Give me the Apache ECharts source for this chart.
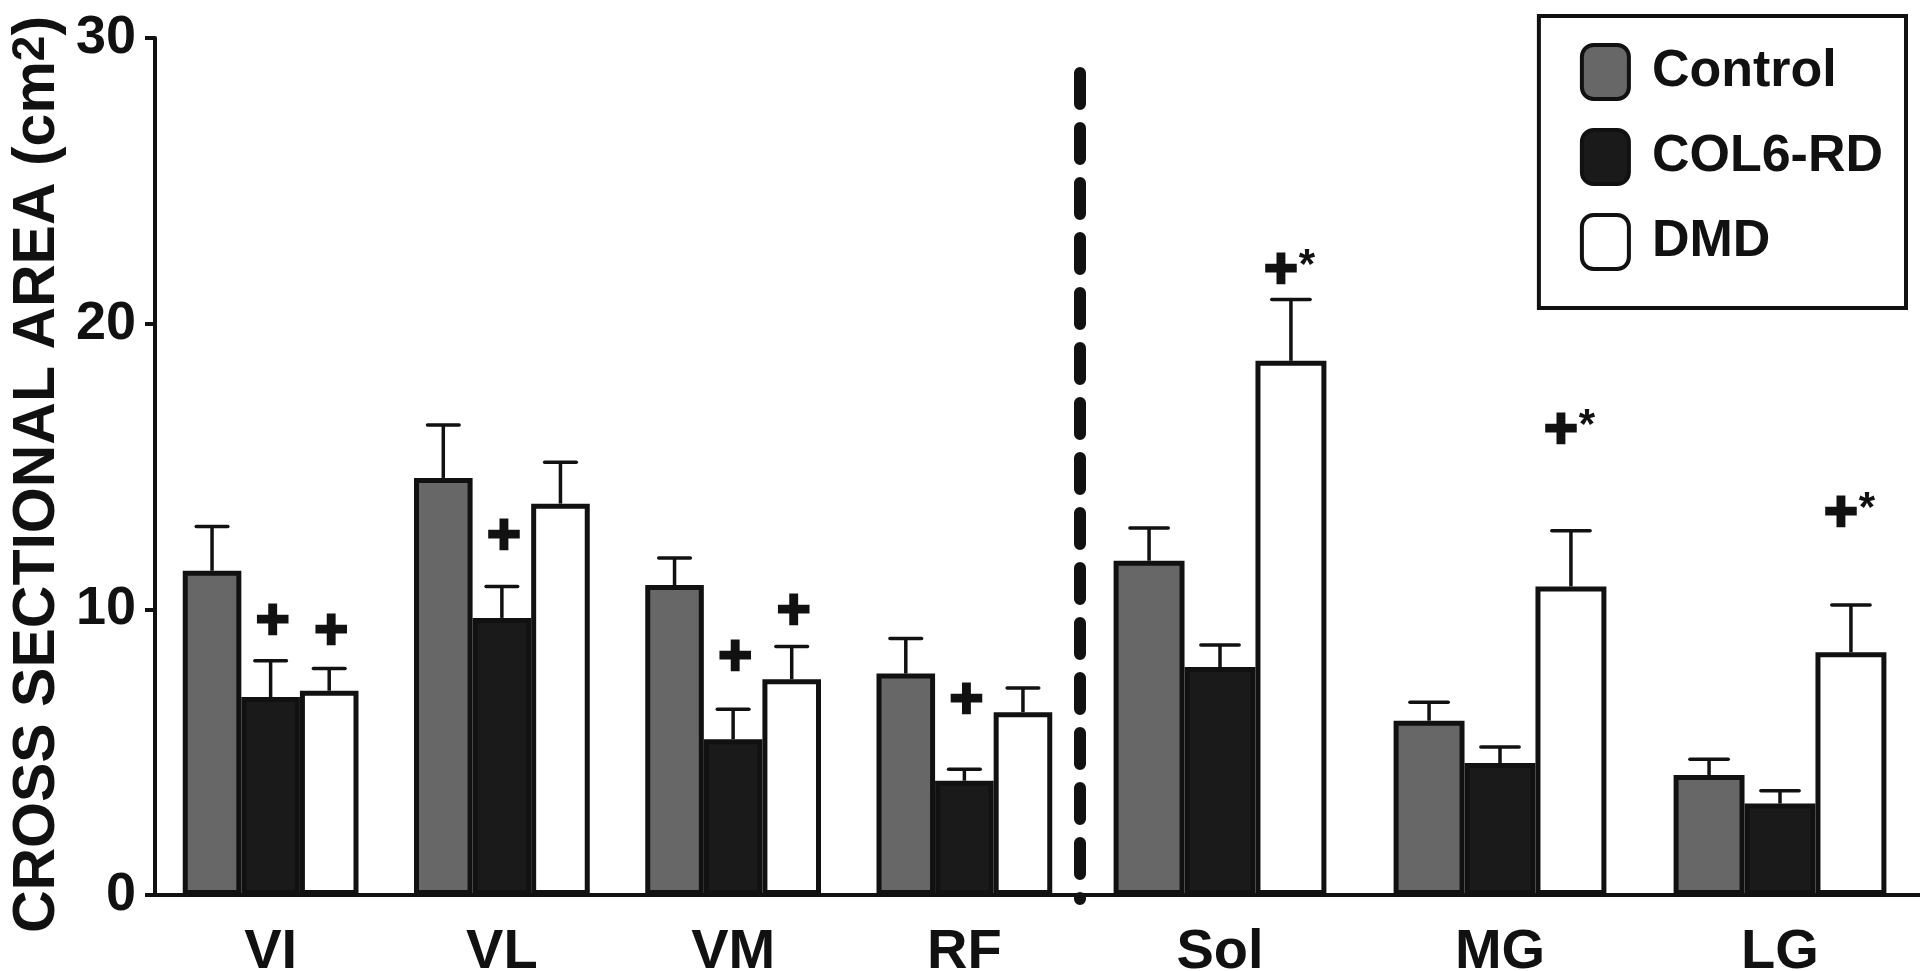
<!DOCTYPE html>
<html>
<head>
<meta charset="utf-8">
<script src="https://cdn.jsdelivr.net/npm/echarts@6/dist/echarts.min.js"></script>
<style>html,body{margin:0;padding:0;background:#fff;}#chart{width:1920px;height:971px;}</style>
</head>
<body>
<div id="chart"></div>
<script>
// ---- data ----
const categories = ['VI', 'VL', 'VM', 'RF', 'Sol', 'MG', 'LG'];
const seriesNames = ['Control', 'COL6-RD', 'DMD'];
const controlMean = [11.35, 14.6, 10.85, 7.75, 11.7, 6.1, 4.2];
const controlSem  = [1.55, 1.85, 0.95, 1.23, 1.15, 0.65, 0.55];
const col6Mean    = [6.93, 9.7, 5.45, 4.0, 7.98, 4.62, 3.2];
const col6Sem     = [1.27, 1.1, 1.05, 0.4, 0.77, 0.56, 0.45];
const dmdMean     = [7.15, 13.7, 7.55, 6.4, 18.7, 10.8, 8.5];
const dmdSem      = [0.78, 1.45, 1.15, 0.85, 2.15, 1.95, 1.65];
const controlSig  = ['', '', '', '', '', '', ''];
const col6Sig     = ['+', '+', '+', '+', '', '', ''];
const dmdSig      = ['+', '', '+', '', '+*', '+*', '+*'];
const controlSigY = [null, null, null, null, null, null, null];
const col6SigY    = [9.52, 12.5, 8.26, 6.76, null, null, null];
const dmdSigY     = [9.18, null, 9.88, null, 21.8, 16.2, 13.3];
const yTicks = [0, 10, 20, 30];

// ---- layout / style ----
const FONT = '"Liberation Sans", Arial, Helvetica, sans-serif';
const INK = '#111';
const GRID_TOP = 38, GRID_BOTTOM = 76, GRID_LEFT = 155, SPLIT_X = 1080;
const CAT_GAP = 0.24;
const groups = [[0, 4], [4, 7]]; // thigh muscles | calf muscles
const means = [controlMean, col6Mean, dmdMean];
const sems = [controlSem, col6Sem, dmdSem];
const sigs = [controlSig, col6Sig, dmdSig];
const sigYs = [controlSigY, col6SigY, dmdSigY];
const fills = ['#676767', '#1a1a1a', '#ffffff'];

const chart = echarts.init(document.getElementById('chart'), null, {renderer: 'canvas'});

const grids = [
  {left: GRID_LEFT, width: SPLIT_X - GRID_LEFT, top: GRID_TOP, bottom: GRID_BOTTOM, containLabel: false, outerBoundsMode: 'none'},
  {left: SPLIT_X, right: 0, top: GRID_TOP, bottom: GRID_BOTTOM, containLabel: false, outerBoundsMode: 'none'}
];

const xAxes = groups.map((g, gi) => ({
  type: 'category', gridIndex: gi,
  data: categories.slice(g[0], g[1]),
  axisLine: {lineStyle: {color: INK, width: 4}},
  axisTick: {alignWithLabel: true, length: 12, lineStyle: {color: INK, width: 4}},
  axisLabel: {color: INK, fontSize: 56, fontWeight: 'bold', fontFamily: FONT, margin: 30}
}));

const yAxes = groups.map((g, gi) => ({
  type: 'value', gridIndex: gi, min: yTicks[0], max: yTicks[yTicks.length - 1], interval: 10,
  show: gi === 0,
  splitLine: {show: false},
  axisLine: {show: true, lineStyle: {color: INK, width: 4}},
  axisTick: {show: true, length: 10, lineStyle: {color: INK, width: 4}},
  axisLabel: {color: INK, fontSize: 54, fontWeight: 'bold', fontFamily: FONT, margin: 19},
  name: gi === 0 ? 'CROSS SECTIONAL AREA (cm{sup|2})' : '',
  nameLocation: 'middle', nameGap: 88, nameRotate: 90,
  nameTextStyle: {
    color: INK, fontSize: 59, fontWeight: 'bold', fontFamily: FONT, padding: [0, 16, 0, 0],
    rich: {sup: {color: INK, fontSize: 46, fontWeight: 'bold', fontFamily: FONT, verticalAlign: 'top'}}
  }
}));

const series = [];
groups.forEach((g, gi) => {
  seriesNames.forEach((name, si) => {
    series.push({
      name: name, type: 'bar', xAxisIndex: gi, yAxisIndex: gi,
      barGap: '0%', barCategoryGap: (CAT_GAP * 100) + '%',
      itemStyle: {color: fills[si], borderColor: INK, borderWidth: 5},
      data: means[si].slice(g[0], g[1]),
      z: 3
    });
  });
});
groups.forEach((g, gi) => {
  seriesNames.forEach((name, si) => {
    const rows = [];
    for (let i = g[0]; i < g[1]; i++) rows.push([i - g[0], means[si][i], means[si][i] + sems[si][i]]);
    series.push({
      name: name + ' SEM', type: 'custom', xAxisIndex: gi, yAxisIndex: gi, z: 2,
      silent: true,
      data: rows,
      renderItem: function (params, api) {
        const xi = api.value(0), m = api.value(1), t = api.value(2);
        const gIdx = g[0] + params.dataIndex;
        const band = api.size([1, 0])[0];
        const bw = band * (1 - CAT_GAP) / 3;
        const cx = api.coord([xi, 0])[0] + (si - 1) * bw;
        const yM = api.coord([xi, m])[1];
        const yT = api.coord([xi, t])[1];
        const cap = bw * 0.54;
        const children = [
          {type: 'line', shape: {x1: cx, y1: yM, x2: cx, y2: yT}, style: {stroke: INK, lineWidth: 3.5}},
          {type: 'line', shape: {x1: cx - cap / 2, y1: yT, x2: cx + cap / 2, y2: yT}, style: {stroke: INK, lineWidth: 3.5, lineCap: 'round'}}
        ];
        const sig = sigs[si][gIdx];
        const sy = sigYs[si][gIdx];
        if (sig && sy != null) {
          const py = api.coord([xi, sy])[1];
          const star = sig.indexOf('*') >= 0;
          const px = star ? cx - 10 : cx + 2;
          children.push({type: 'text', z2: 10, style: {text: '+', x: px, y: py, fontSize: 58, fontWeight: 'bold', fontFamily: FONT, fill: INK, stroke: INK, lineWidth: 2.5, align: 'center', verticalAlign: 'middle'}});
          if (star) {
            children.push({type: 'text', z2: 10, style: {text: '*', x: cx + 16, y: py - 6, fontSize: 42, fontWeight: 'bold', fontFamily: FONT, fill: INK, align: 'center', verticalAlign: 'middle'}});
          }
        }
        return {type: 'group', children: children};
      }
    });
  });
});

chart.setOption({
  animation: false,
  backgroundColor: '#fff',
  grid: grids,
  xAxis: xAxes,
  yAxis: yAxes,
  legend: {
    data: seriesNames,
    orient: 'vertical', right: 14, top: 16,
    borderColor: INK, borderWidth: 4, borderRadius: 0,
    padding: [27, 23, 37, 41],
    itemWidth: 47, itemHeight: 54, itemGap: 27,
    icon: 'roundRect',
    selectedMode: false,
    itemStyle: {borderWidth: 4, borderColor: INK},
    textStyle: {color: INK, fontSize: 52, fontWeight: 'bold', fontFamily: FONT, padding: [0, 0, 0, 18]}
  },
  graphic: [{
    type: 'line', z: 50,
    shape: {x1: SPLIT_X, y1: 73, x2: SPLIT_X, y2: 899},
    style: {stroke: INK, lineWidth: 12, lineDash: [31, 24], lineCap: 'round'}
  }],
  series: series
});
</script>
</body>
</html>
